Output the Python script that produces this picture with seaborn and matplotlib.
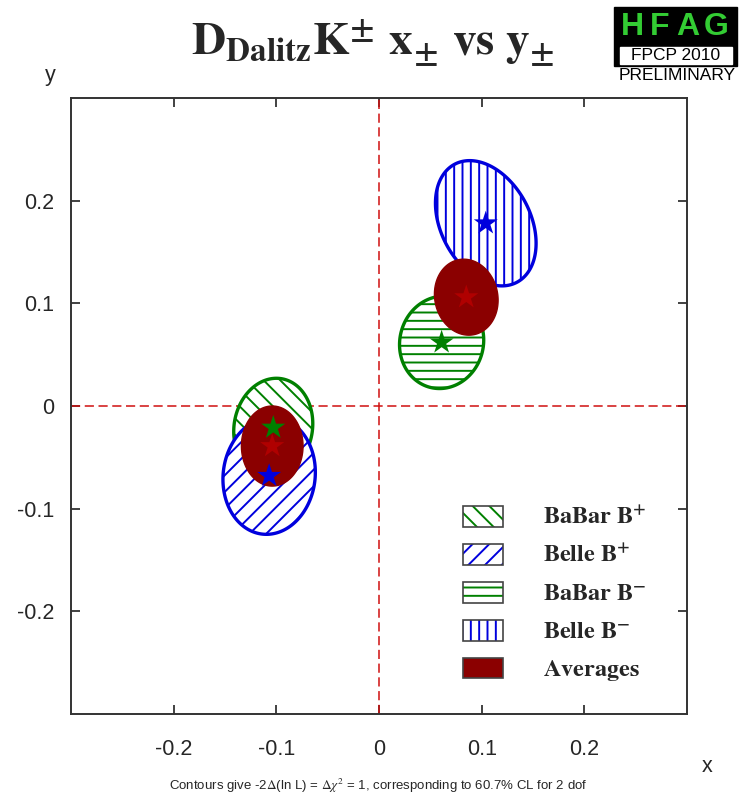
import numpy as np
import pandas as pd
import seaborn as sns
import matplotlib
matplotlib.use("Agg")
import matplotlib.pyplot as plt
from matplotlib.patches import Patch, Rectangle

# Central values and 1-sigma contour parameters for each measurement
labels = ["BaBar B+", "Belle B+", "BaBar B-", "Belle B-", "Average B+", "Average B-"]
x_center = [-0.103, -0.107, 0.061, 0.104, -0.104, 0.085]
y_center = [-0.021, -0.068, 0.062, 0.178, -0.039, 0.106]
sigma_x = [0.0385, 0.045, 0.041, 0.049, 0.030, 0.031]
sigma_y = [0.048, 0.057, 0.045, 0.061, 0.039, 0.037]
rho = [0.08, 0.06, 0.05, -0.32, 0.0, -0.08]

legend_labels = [r"$\mathbf{BaBar\ B^{+}}$", r"$\mathbf{Belle\ B^{+}}$",
                 r"$\mathbf{BaBar\ B^{-}}$", r"$\mathbf{Belle\ B^{-}}$",
                 r"$\mathbf{Averages}$"]
ticks = [-0.2, -0.1, 0, 0.1, 0.2]
tick_labels = ["-0.2", "-0.1", "0", "0.1", "0.2"]

GREEN = "#008000"
BLUE = "#0000dd"
DARKRED = "#8b0000"
STARRED = "#b00000"

styles = {
    "BaBar B+": dict(color=GREEN, hatch="\\\\"),
    "Belle B+": dict(color=BLUE, hatch="//"),
    "BaBar B-": dict(color=GREEN, hatch="--"),
    "Belle B-": dict(color=BLUE, hatch="||"),
    "Average B+": dict(color=DARKRED, hatch=None),
    "Average B-": dict(color=DARKRED, hatch=None),
}
star_colors = {"BaBar B+": GREEN, "Belle B+": BLUE, "BaBar B-": GREEN,
               "Belle B-": BLUE, "Average B+": STARRED, "Average B-": STARRED}

sns.set_style("ticks")
plt.rcParams["font.family"] = ["Liberation Sans", "DejaVu Sans"]
plt.rcParams["mathtext.fontset"] = "stix"
plt.rcParams["hatch.linewidth"] = 1.4

fig = plt.figure(figsize=(7.4, 7.95), dpi=100)
ax = fig.add_axes([71 / 740, 1 - 714 / 795, 616 / 740, 616 / 795])

ax.axhline(0, color="#d01010", lw=1.1, ls=(0, (6, 3)), zorder=1)
ax.axvline(0, color="#d01010", lw=1.1, ls=(0, (6, 3)), zorder=1)

t = np.linspace(0, 2 * np.pi, 400)
order = ["BaBar B+", "Belle B+", "Average B+", "BaBar B-", "Belle B-", "Average B-"]
for z, name in enumerate(order):
    i = labels.index(name)
    ex = x_center[i] + sigma_x[i] * np.cos(t)
    ey = y_center[i] + sigma_y[i] * (rho[i] * np.cos(t) + np.sqrt(1 - rho[i] ** 2) * np.sin(t))
    st = styles[name]
    if st["hatch"] is None:
        ax.fill(ex, ey, facecolor=st["color"], edgecolor=st["color"], lw=1, zorder=2 + z)
    else:
        ax.fill(ex, ey, facecolor="white", edgecolor=st["color"], hatch=st["hatch"],
                lw=2.4, zorder=2 + z)

stars = pd.DataFrame({"x": x_center, "y": y_center, "name": labels})
sns.scatterplot(data=stars, x="x", y="y", hue="name", palette=star_colors,
                marker="*", s=330, linewidth=0, legend=False, ax=ax, zorder=20)

ax.set_xlim(-0.3, 0.3)
ax.set_ylim(-0.3, 0.3)
ax.set_xticks(ticks)
ax.set_yticks(ticks)
ax.set_xticklabels(tick_labels)
ax.set_yticklabels(tick_labels)
ax.set_xlabel("")
ax.set_ylabel("")
ax.tick_params(direction="in", length=6.5, width=1.3, color="#333333",
               top=True, right=True, labelsize=15.5)
ax.tick_params(axis="x", pad=18)
ax.tick_params(axis="y", pad=12)
for sp in ax.spines.values():
    sp.set_visible(True)
    sp.set_color("#333333")
    sp.set_linewidth(1.4)

# Legend: coloured hatch with a thin grey frame around each swatch
frame = dict(facecolor="none", edgecolor="#444444", lw=1.2)
handles = [
    (Patch(facecolor="white", edgecolor=GREEN, hatch="\\\\", lw=0), Patch(**frame)),
    (Patch(facecolor="white", edgecolor=BLUE, hatch="//", lw=0), Patch(**frame)),
    (Patch(facecolor="white", edgecolor=GREEN, hatch="--", lw=0), Patch(**frame)),
    (Patch(facecolor="white", edgecolor=BLUE, hatch="||", lw=0), Patch(**frame)),
    (Patch(facecolor=DARKRED, edgecolor=DARKRED, lw=0), Patch(**frame)),
]
ax.legend(handles, legend_labels, loc="upper left", bbox_to_anchor=(0.636, 0.338),
          frameon=False, fontsize=17.5, handlelength=1.65, handleheight=0.95,
          handletextpad=1.65, labelspacing=0.58, borderpad=0, borderaxespad=0)

# Title and axis names
fig.text(373 / 740, 1 - 56 / 795,
         r"$\mathbf{D_{Dalitz}K^{\pm}\ x_{\pm}\ vs\ y_{\pm}}$",
         ha="center", va="baseline", fontsize=34)
fig.text(50 / 740, 1 - 75 / 795, "y", ha="center", va="center", fontsize=15.5)
fig.text(707 / 740, 1 - 766 / 795, "x", ha="center", va="center", fontsize=15.5)
fig.text(378 / 740, 1 - 786 / 795,
         r"Contours give -2$\Delta$(ln L) = $\Delta\chi^2$ = 1, corresponding to 60.7% CL for 2 dof",
         ha="center", va="center", fontsize=9.5)

# HFAG badge
fig.patches.append(Rectangle((614 / 740, 1 - 66 / 795), 123 / 740, 59 / 795,
                             transform=fig.transFigure, facecolor="black",
                             edgecolor="black", zorder=5))
fig.patches.append(Rectangle((620 / 740, 1 - 64 / 795), 112 / 740, 17 / 795,
                             transform=fig.transFigure, facecolor="white",
                             edgecolor="white", zorder=6))
for k, ch in enumerate("HFAG"):
    fig.text((632 + k * 28) / 740, 1 - 27 / 795, ch, ha="center", va="center",
             fontsize=23, fontweight="bold", color="#33cc33", zorder=7)
fig.text(676 / 740, 1 - 55 / 795, "FPCP 2010", ha="center", va="center",
         fontsize=12.5, color="black", zorder=7)
fig.text(677 / 740, 1 - 75 / 795, "PRELIMINARY", ha="center", va="center",
         fontsize=12.5, color="black", zorder=7)

fig.savefig("out.png", dpi=100, facecolor="white")
